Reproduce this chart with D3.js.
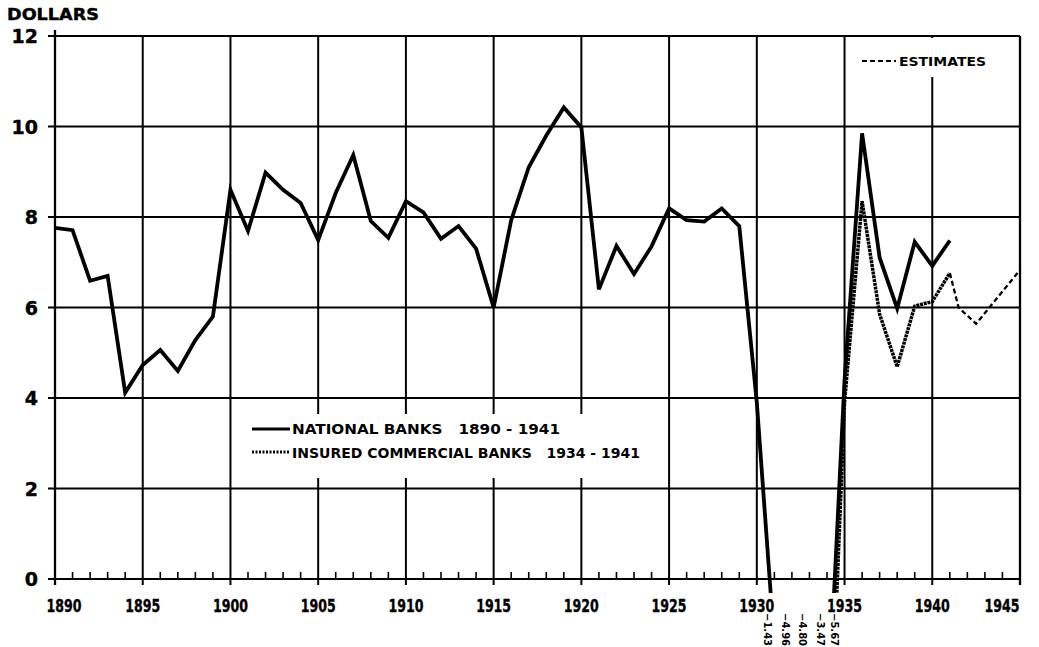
<!DOCTYPE html>
<html><head><meta charset="utf-8">
<script src="https://cdn.jsdelivr.net/npm/d3@7"></script>
<style>
html,body{margin:0;padding:0;background:#fff;}
svg{display:block;}
text{font-family:"DejaVu Sans","Liberation Sans",Arial,sans-serif;font-weight:bold;fill:#000;}
</style></head>
<body>
<svg id="chart" width="1039" height="647"></svg>
<script>
// ---- data ----
const nationalYears = d3.range(1890, 1942);
const nationalValues = [
  7.76, 7.71, 6.59, 6.70, 4.12, 4.73, 5.06, 4.60, 5.28, 5.80,
  8.60, 7.69, 8.98, 8.60, 8.31, 7.49, 8.53, 9.37, 7.91, 7.54,
  8.35, 8.10, 7.52, 7.80, 7.30, 6.00, 7.93, 9.10, 9.80, 10.42,
  9.98, 6.40, 7.36, 6.74, 7.35, 8.19, 7.93, 7.90, 8.19, 7.80,
  3.90, -1.43, -4.96, -4.80, -3.47, 4.40, 9.85, 7.10, 5.98, 7.45,
  6.92, 7.48
];
const insuredYears = [1934, 1935, 1936, 1937, 1938, 1939, 1940, 1941];
const insuredValues = [-5.67, 3.90, 8.35, 5.85, 4.69, 6.03, 6.13, 6.76];
const estimateYears = [1941, 1941.5, 1942.5, 1945];
const estimateValues = [6.76, 6.00, 5.64, 6.83];
const yTicks = [0, 2, 4, 6, 8, 10, 12];
const xLabelYears = [1890, 1895, 1900, 1905, 1910, 1915, 1920, 1925, 1930, 1935, 1940, 1945];
const legendLabels = ["NATIONAL BANKS   1890 - 1941", "INSURED COMMERCIAL BANKS   1934 - 1941"];
const estimateLabel = "ESTIMATES";
const yTitle = "DOLLARS";

// ---- setup ----
const svg = d3.select("#chart");
const x = d3.scaleLinear().domain([1890, 1945]).range([55, 1020]);
const y = d3.scaleLinear().domain([0, 12]).range([579, 36]);

const national = nationalYears.map((yr, i) => ({yr, v: nationalValues[i]}));
const insured = insuredYears.map((yr, i) => ({yr, v: insuredValues[i]}));
const estimates = estimateYears.map((yr, i) => ({yr, v: estimateValues[i]}));

// grid: horizontal
svg.append("g").selectAll("line").data(yTicks).join("line")
  .attr("x1", x(1890) - 7).attr("x2", x(1945))
  .attr("y1", d => y(d)).attr("y2", d => y(d))
  .attr("stroke", "#000").attr("stroke-width", 2);

// grid: vertical every 5 years
const fiveYears = d3.range(1890, 1946, 5);
svg.append("g").selectAll("line").data(fiveYears).join("line")
  .attr("x1", d => x(d)).attr("x2", d => x(d))
  .attr("y1", d => d === 1890 ? y(12) - 6 : y(12)).attr("y2", y(0) + 6)
  .attr("stroke", "#000").attr("stroke-width", d => (d === 1890 || d === 1945) ? 2.3 : 2);

// minor year ticks
svg.append("g").selectAll("line").data(d3.range(1891, 1945).filter(d => d % 5 !== 0)).join("line")
  .attr("x1", d => x(d)).attr("x2", d => x(d))
  .attr("y1", y(0)).attr("y2", y(0) - 7)
  .attr("stroke", "#000").attr("stroke-width", 1.6);

// y labels
svg.append("g").selectAll("text").data(yTicks).join("text")
  .attr("x", 38).attr("y", d => y(d) + 7)
  .attr("text-anchor", "end").attr("font-size", 19)
  .attr("stroke", "#000").attr("stroke-width", 0.4)
  .text(d => d);

// x labels
svg.append("g").selectAll("text").data(xLabelYears).join("text")
  .attr("x", d => d === 1945 ? x(d) - 18 : (d === 1890 ? x(d) + 9 : x(d))).attr("y", 612)
  .attr("text-anchor", "middle").attr("font-size", 18)
  .attr("stroke", "#000").attr("stroke-width", 0.4)
  .attr("textLength", 35).attr("lengthAdjust", "spacingAndGlyphs")
  .text(d => d);

// y title
svg.append("text").attr("x", 7).attr("y", 20).attr("font-size", 15)
  .attr("stroke", "#000").attr("stroke-width", 0.4)
  .attr("textLength", 92).attr("lengthAdjust", "spacingAndGlyphs").text(yTitle);

// estimates legend (white patch behind)
svg.append("rect").attr("x", 858).attr("y", y(12) + 2).attr("width", 132).attr("height", 39).attr("fill", "#fff");
svg.append("line").attr("x1", 862).attr("x2", 896).attr("y1", 61).attr("y2", 61)
  .attr("stroke", "#000").attr("stroke-width", 2).attr("stroke-dasharray", "5,3");
svg.append("text").attr("x", 899).attr("y", 66).attr("font-size", 13)
  .attr("textLength", 87).attr("lengthAdjust", "spacingAndGlyphs").text(estimateLabel);

// main legend (white patch behind)
svg.append("rect").attr("x", 246).attr("y", 414).attr("width", 418).attr("height", 64).attr("fill", "#fff");
svg.append("line").attr("x1", 252).attr("x2", 290).attr("y1", 429).attr("y2", 429)
  .attr("stroke", "#000").attr("stroke-width", 3);
svg.append("line").attr("x1", 252).attr("x2", 290).attr("y1", 452).attr("y2", 452)
  .attr("stroke", "#000").attr("stroke-width", 3).attr("stroke-dasharray", "2,1.5");
svg.append("text").attr("x", 292).attr("y", 434).attr("font-size", 14)
  .attr("xml:space", "preserve").style("white-space", "pre")
  .attr("textLength", 268).attr("lengthAdjust", "spacingAndGlyphs").text(legendLabels[0]);
svg.append("text").attr("x", 292).attr("y", 458).attr("font-size", 14)
  .attr("xml:space", "preserve").style("white-space", "pre")
  .attr("textLength", 348).attr("lengthAdjust", "spacingAndGlyphs").text(legendLabels[1]);

// clip for lines
svg.append("clipPath").attr("id", "plotclip").append("rect")
  .attr("x", x(1890)).attr("y", 0).attr("width", x(1945) - x(1890)).attr("height", y(0) + 14);

const line = d3.line().x(d => x(d.yr)).y(d => y(d.v));

svg.append("path").datum(national).attr("d", line).attr("clip-path", "url(#plotclip)")
  .attr("fill", "none").attr("stroke", "#000").attr("stroke-width", 3.8).attr("stroke-linejoin", "miter");
svg.append("path").datum(insured).attr("d", line).attr("clip-path", "url(#plotclip)")
  .attr("fill", "none").attr("stroke", "#000").attr("stroke-width", 3.5).attr("stroke-dasharray", "3,0.8");
svg.append("path").datum(estimates).attr("d", line)
  .attr("fill", "none").attr("stroke", "#000").attr("stroke-width", 2.3).attr("stroke-dasharray", "5,3");

// off-chart negative value labels
const offLabels = national.filter(d => d.v < 0).map(d => ({yr: d.yr, v: d.v, dx: -6}))
  .concat(insured.filter(d => d.v < 0).map(d => ({yr: d.yr, v: d.v, dx: 8})));
svg.append("g").selectAll("text").data(offLabels).join("text")
  .attr("transform", d => `translate(${x(d.yr) + d.dx - 4},613) rotate(90)`)
  .attr("font-size", 10).text(d => d3.format(".2f")(d.v));
</script>
</body></html>
